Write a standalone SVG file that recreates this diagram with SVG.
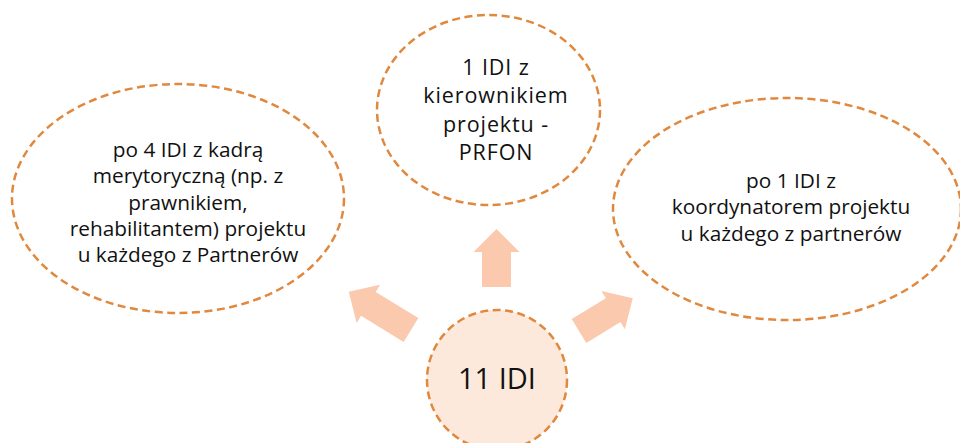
<svg xmlns="http://www.w3.org/2000/svg" width="960" height="443" viewBox="0 0 960 443">
<style>
.n{fill:#ffffff;stroke:#e0893e;stroke-width:2.5;stroke-dasharray:8 4.5}
.c{fill:#fde9db;stroke:#e0893e;stroke-width:2.5;stroke-dasharray:8 4.5}
.t{font-family:"Open Sans","Noto Sans",sans-serif;font-size:20.8px;fill:#111111;text-anchor:middle}
.tt{font-size:21.5px;letter-spacing:0.9px}
.big{font-size:29px}
.a{fill:#fac9ae}
</style>
<rect width="960" height="443" fill="#ffffff"/>
<g id="connectors">
<path class="a" transform="translate(496.5,287)" d="M-14.5,0 L-14.5,-35 L-23,-35 L0,-58 L23,-35 L14.5,-35 L14.5,0 Z"/>
<path class="a" transform="translate(411,330) rotate(-58.5)" d="M-14,0 L-14,-50 L-22.5,-50 L0,-73 L22.5,-50 L14,-50 L14,0 Z"/>
<path class="a" transform="translate(579,331) rotate(58.6)" d="M-14,0 L-14,-40 L-22.5,-40 L0,-63 L22.5,-40 L14,-40 L14,0 Z"/>
</g>
<g id="left">
<ellipse class="n" cx="178" cy="198.5" rx="166" ry="114.5"/>
<text class="t" x="188" y="157">po 4 IDI z kadrą</text>
<text class="t" x="188" y="183">merytoryczną (np. z</text>
<text class="t" x="188" y="210">prawnikiem,</text>
<text class="t" x="188" y="236">rehabilitantem) projektu</text>
<text class="t" x="188" y="262">u każdego z Partnerów</text>
</g>
<g id="top">
<ellipse class="n" cx="488.5" cy="110" rx="111.5" ry="95"/>
<text class="t tt" x="496" y="75">1 IDI z</text>
<text class="t tt" x="496" y="103">kierownikiem</text>
<text class="t tt" x="496" y="132">projektu -</text>
<text class="t tt" x="496" y="160">PRFON</text>
</g>
<g id="right">
<ellipse class="n" cx="787" cy="209" rx="174" ry="111"/>
<text class="t" x="791" y="188">po 1 IDI z</text>
<text class="t" x="791" y="214">koordynatorem projektu</text>
<text class="t" x="791" y="241">u każdego z partnerów</text>
</g>
<g id="center">
<circle class="c" cx="497" cy="380" r="70"/>
<text class="t big" x="497" y="389">11 IDI</text>
</g>
</svg>
